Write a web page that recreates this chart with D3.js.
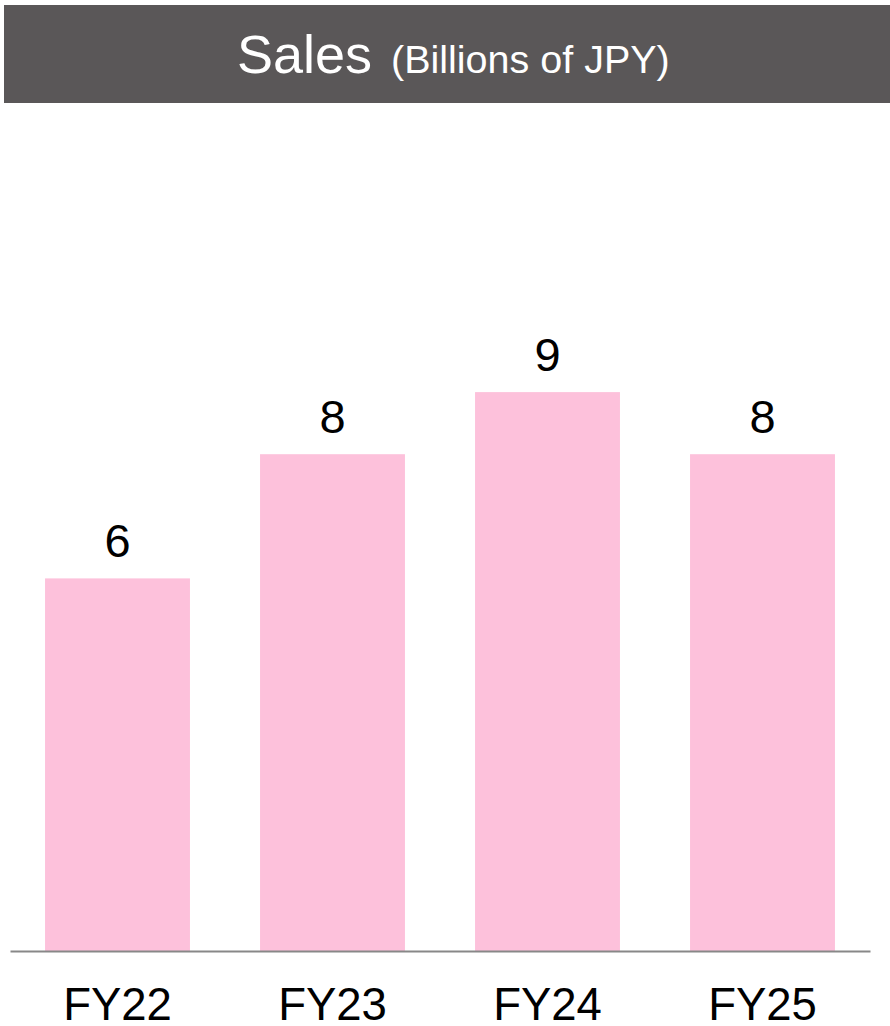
<!DOCTYPE html>
<html>
<head>
<meta charset="utf-8">
<script src="https://cdn.jsdelivr.net/npm/d3@7/dist/d3.min.js"></script>
<style>
  html, body { margin: 0; padding: 0; background: #ffffff; }
  svg { display: block; font-family: "Liberation Sans", Arial, sans-serif; }
</style>
</head>
<body>
<script>
const categories = ["FY22", "FY23", "FY24", "FY25"];
const sales = [6, 8, 9, 8];
const titleMain = "Sales";
const titleUnit = "(Billions of JPY)";

const W = 890, H = 1026;
const svg = d3.select("body").append("svg").attr("width", W).attr("height", H);

// header band
svg.append("rect").attr("x", 4).attr("y", 5).attr("width", W - 4).attr("height", 98).attr("fill", "#5a5758");
const title = svg.append("text").attr("x", 237).attr("y", 73).attr("fill", "#ffffff");
title.append("tspan").attr("font-size", 54).text(titleMain);
title.append("tspan").attr("x", 391).attr("font-size", 39.5).text(titleUnit);

const x = d3.scaleBand().domain(categories).range([10, 870]).paddingInner(0.326).paddingOuter(0.163);
const y = d3.scaleLinear().domain([0, 14]).range([951, 951 - 62.1 * 14]);

svg.selectAll("rect.bar").data(sales).join("rect")
  .attr("class", "bar")
  .attr("x", (d, i) => x(categories[i]))
  .attr("y", d => y(d))
  .attr("width", x.bandwidth())
  .attr("height", d => y(0) - y(d))
  .attr("fill", "#fdc1db");

svg.selectAll("text.val").data(sales).join("text")
  .attr("class", "val")
  .attr("x", (d, i) => x(categories[i]) + x.bandwidth() / 2)
  .attr("y", d => y(d) - 21)
  .attr("text-anchor", "middle")
  .attr("font-size", 47)
  .attr("fill", "#000")
  .text(d => d);

// baseline axis
const axis = svg.append("g").attr("transform", `translate(0,${y(0)})`)
  .call(d3.axisBottom(x).tickSize(0).tickPadding(0));
axis.select(".domain").attr("stroke", "#888888").attr("stroke-width", 2);
axis.selectAll(".tick text")
  .attr("font-size", 45.5)
  .attr("fill", "#000")
  .attr("font-family", "Liberation Sans, Arial, sans-serif")
  .attr("dy", null)
  .attr("y", 69);
</script>
</body>
</html>
